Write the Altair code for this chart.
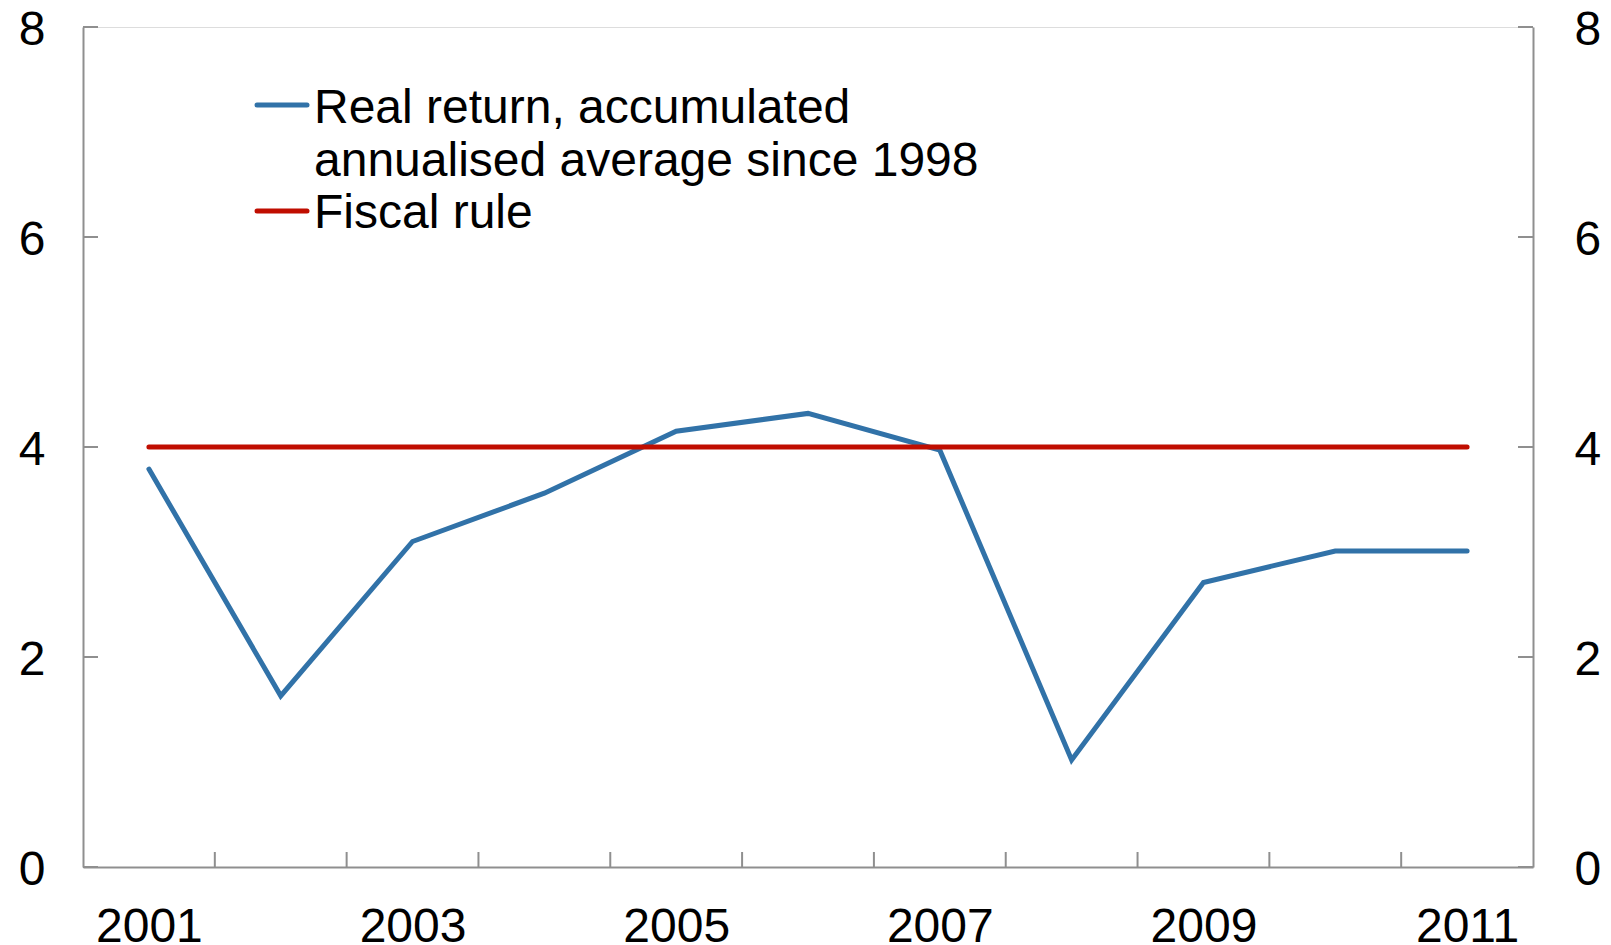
import altair as alt
import pandas as pd

# ---- data ----
years = list(range(2001, 2012))
real_return = [3.79, 1.63, 3.10, 3.56, 4.15, 4.32, 3.97, 1.02, 2.71, 3.01, 3.01]
fiscal_rule = [4.0, 4.0, 4.0, 4.0, 4.0, 4.0, 4.0, 4.0, 4.0, 4.0, 4.0]
x_label_years = [2001, 2003, 2005, 2007, 2009, 2011]
x_tick_bounds = [2001.5, 2002.5, 2003.5, 2004.5, 2005.5, 2006.5, 2007.5, 2008.5, 2009.5, 2010.5]
y_ticks = [0, 2, 4, 6, 8]
legend_line1 = "Real return, accumulated"
legend_line2 = "annualised average since 1998"
legend_line3 = "Fiscal rule"

# ---- styling ----
W, H = 1450, 840
FONT = "Liberation Sans"
BLUE = "#3172a8"
RED = "#c00d00"
GRAY = "#8f8f8f"
TICK = 15
FS = 48

df = pd.DataFrame({"year": years, "real": real_return, "rule": fiscal_rule})
xt_df = pd.DataFrame({"b": x_tick_bounds})
yt_df = pd.DataFrame({"v": y_ticks})
one = pd.DataFrame({"a": [0]})

xscale = alt.Scale(domain=[2000.5, 2011.5], nice=False, zero=False)
yscale = alt.Scale(domain=[0, 8], nice=False, zero=True)

x_axis = alt.Axis(values=x_label_years, format="d", ticks=False, tickSize=0,
                  labelFont=FONT, labelFontSize=FS, labelColor="black",
                  labelPadding=36, domainColor=GRAY, domainWidth=2,
                  grid=False, title=None, labelOverlap=False)
y_left = alt.Axis(orient="left", values=y_ticks, ticks=False, tickSize=0,
                  labelFont=FONT, labelFontSize=FS, labelColor="black",
                  labelPadding=38, labelOffset=3, domainColor=GRAY, domainWidth=2,
                  grid=False, title=None)
y_right = alt.Axis(orient="right", values=y_ticks, ticks=False, tickSize=0,
                   labelFont=FONT, labelFontSize=FS, labelColor="black",
                   labelPadding=41, labelOffset=3, domainColor=GRAY, domainWidth=2,
                   grid=False, title=None)

base = alt.Chart(df)
blue = base.mark_line(color=BLUE, strokeWidth=5, strokeCap="round").encode(
    x=alt.X("year:Q", scale=xscale, axis=x_axis),
    y=alt.Y("real:Q", scale=yscale, axis=y_left),
)
red = base.mark_line(color=RED, strokeWidth=5, strokeCap="round").encode(
    x=alt.X("year:Q", scale=xscale, axis=None),
    y=alt.Y("rule:Q", scale=yscale, axis=y_right),
)

x_ticks = alt.Chart(xt_df).mark_rule(color=GRAY, strokeWidth=2).encode(
    x=alt.X("b:Q", scale=xscale, axis=None),
    y=alt.value(H), y2=alt.value(H - TICK),
)
y_ticks_left = alt.Chart(yt_df).mark_rule(color=GRAY, strokeWidth=2).encode(
    y=alt.Y("v:Q", scale=yscale, axis=None),
    x=alt.value(0), x2=alt.value(TICK),
)
y_ticks_right = alt.Chart(yt_df).mark_rule(color=GRAY, strokeWidth=2).encode(
    y=alt.Y("v:Q", scale=yscale, axis=None),
    x=alt.value(W - TICK), x2=alt.value(W),
)

leg = alt.Chart(one)
leg_blue = leg.mark_rule(color=BLUE, strokeWidth=5, strokeCap="round").encode(
    x=alt.value(174), x2=alt.value(224), y=alt.value(78))
leg_red = leg.mark_rule(color=RED, strokeWidth=5, strokeCap="round").encode(
    x=alt.value(174), x2=alt.value(224), y=alt.value(184))
txt_kw = dict(align="left", baseline="alphabetic", font=FONT, fontSize=48, color="black")
t1 = leg.mark_text(text=legend_line1, **txt_kw).encode(x=alt.value(231), y=alt.value(96))
t2 = leg.mark_text(text=legend_line2, **txt_kw).encode(x=alt.value(231), y=alt.value(149))
t3 = leg.mark_text(text=legend_line3, **txt_kw).encode(x=alt.value(231), y=alt.value(201))

chart = alt.layer(
    blue, red, x_ticks, y_ticks_left, y_ticks_right,
    leg_blue, leg_red, t1, t2, t3
).resolve_axis(y="independent", x="independent").properties(
    width=W, height=H,
    autosize=alt.AutoSizeParams(type="none"),
    padding={"left": 75, "top": 19, "right": 70, "bottom": 77},
).configure_view(stroke="black", strokeWidth=1.5).configure(background="white")

chart.save("out.html", embed_options={"renderer": "svg", "actions": False})
